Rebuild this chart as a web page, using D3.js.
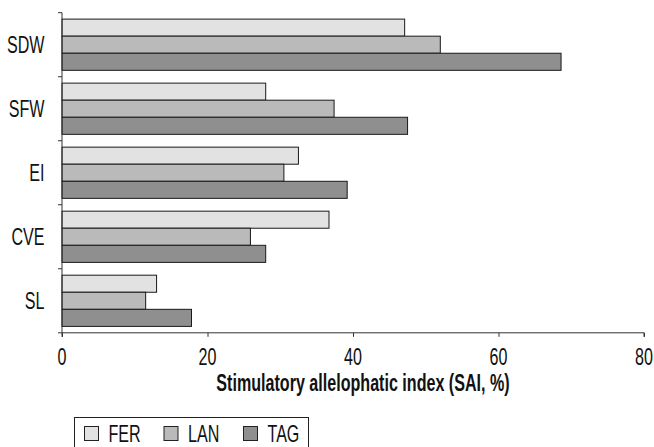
<!DOCTYPE html>
<html>
<head>
<meta charset="utf-8">
<script src="https://cdn.jsdelivr.net/npm/d3@7/dist/d3.min.js"></script>
<style>
html,body{margin:0;padding:0;background:#fff;}
svg{display:block;}
text{font-family:"Liberation Sans",Arial,sans-serif;fill:#111;}
</style>
</head>
<body>
<svg id="chart" width="654" height="447"></svg>
<script>
const categories = ["SDW", "SFW", "EI", "CVE", "SL"];
const seriesNames = ["FER", "LAN", "TAG"];
const FER = [47.1, 28.0, 32.5, 36.7, 13.0];
const LAN = [52.0, 37.4, 30.5, 25.9, 11.5];
const TAG = [68.6, 47.5, 39.2, 28.0, 17.8];
const xTicks = [0, 20, 40, 60, 80];
const colors = ["#e2e2e2", "#bababa", "#8f8f8f"];
const xTitle = "Stimulatory allelophatic index (SAI, %)";

const seriesValues = [FER, LAN, TAG];
const svg = d3.select("#chart");
const NARROW = 0.7;
const FS = 23;

const pLeft = 62, pRight = 644, pTop = 12.7, pBottom = 332.8;

const x = d3.scaleLinear().domain([0, 80]).range([pLeft, pRight]);
const y = d3.scaleBand().domain(categories).range([pTop, pBottom]).paddingInner(0).paddingOuter(0);
const ys = d3.scaleBand().domain(seriesNames).range([y.bandwidth() * 0.1, y.bandwidth() * 0.9]);

function ntext(parent, tx, ty, str, anchor, size, weight) {
  return parent.append("text")
    .attr("transform", `translate(${tx},${ty}) scale(${NARROW},1)`)
    .attr("text-anchor", anchor)
    .attr("font-size", size)
    .attr("font-weight", weight || "normal")
    .text(str);
}

// bars
const g = svg.append("g");
categories.forEach((c, i) => {
  seriesNames.forEach((s, j) => {
    g.append("rect")
      .attr("x", x(0))
      .attr("y", y(c) + ys(s))
      .attr("width", x(seriesValues[j][i]) - x(0))
      .attr("height", ys.bandwidth())
      .attr("fill", colors[j])
      .attr("stroke", "#1a1a1a")
      .attr("stroke-width", 1);
  });
});

// x axis
const xAxis = svg.append("g")
  .attr("transform", `translate(0,${pBottom})`)
  .call(d3.axisBottom(x).tickValues(xTicks).tickSize(4).tickFormat(""));
xAxis.select(".domain").attr("stroke", "#333").attr("d", `M${pLeft},4V0H${pRight}V4`);
xAxis.selectAll(".tick line").attr("stroke", "#333");
xTicks.forEach(t => ntext(svg, x(t), 365, d3.format("d")(t), "middle", FS));

// y axis
const yAxisG = svg.append("g").attr("transform", `translate(${pLeft},0)`);
yAxisG.append("line").attr("x1", 0).attr("x2", 0).attr("y1", pTop).attr("y2", pBottom).attr("stroke", "#333");
const boundaries = categories.map(c => y(c)).concat([pBottom]);
yAxisG.selectAll("line.tk").data(boundaries).enter().append("line")
  .attr("class", "tk").attr("x1", -4).attr("x2", 0)
  .attr("y1", d => d).attr("y2", d => d).attr("stroke", "#333");
categories.forEach(c => ntext(svg, 44.5, y(c) + y.bandwidth() / 2 + 8, c, "end", FS));

// x title
ntext(svg, 363, 390.5, xTitle, "middle", FS, "bold");

// legend
const lg = svg.append("g");
lg.append("rect").attr("x", 74.5).attr("y", 417.5).attr("width", 234).attr("height", 40)
  .attr("fill", "#fff").attr("stroke", "#222");
const legX = [84.5, 164, 243.5];
seriesNames.forEach((s, j) => {
  lg.append("rect").attr("x", legX[j]).attr("y", 426.5).attr("width", 14).attr("height", 14)
    .attr("fill", colors[j]).attr("stroke", "#222");
  ntext(lg, legX[j] + 24, 442, s, "start", FS);
});
</script>
</body>
</html>
